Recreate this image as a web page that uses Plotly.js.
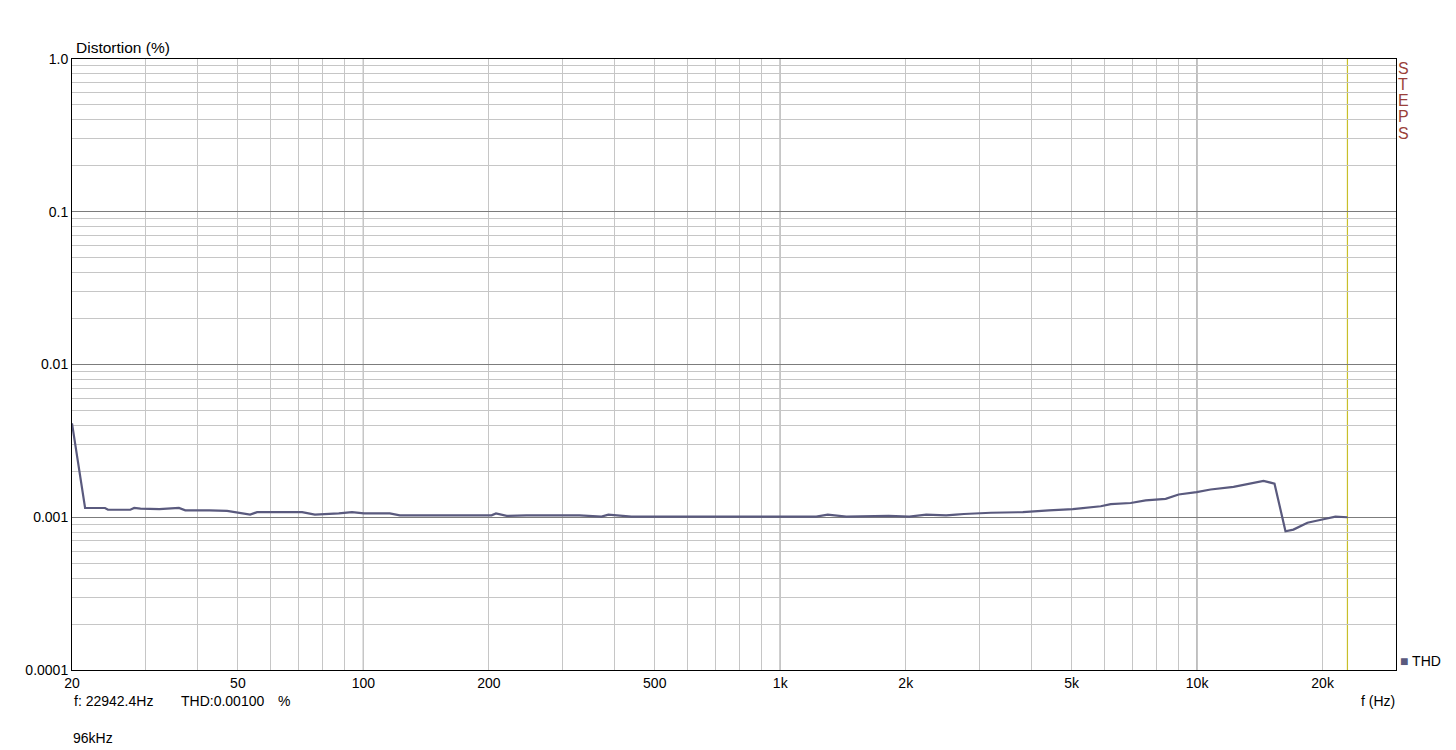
<!DOCTYPE html>
<html>
<head>
<meta charset="utf-8">
<script src="https://cdn.plot.ly/plotly-3.0.1.min.js"></script>
<style>
  html, body { margin: 0; padding: 0; background: #fff; }
  #chart { width: 1456px; height: 750px; }
</style>
</head>
<body>
<div id="chart"></div>
<script>
// ---- data ----
const freqHz = [20, 21.5, 24.0, 24.4, 27.6, 28.2, 29.2, 32.4, 36.1, 37.4,
  42.7, 47.1, 53.5, 55.6, 71.3, 76.5, 87.3, 93.9, 100.3, 104.8,
  115.7, 122.3, 203, 208, 220.7, 246, 330, 372.6, 387, 439.6,
  518.8, 573, 622, 684, 763, 838, 886, 967, 1220, 1300,
  1440, 1820, 2040, 2240, 2500, 2640, 2759, 3201, 3820, 4410,
  5032, 5873, 6206, 6929, 7526, 8405, 9030, 9972, 10773, 12229,
  13434, 14431, 15335, 16293, 17024, 18395, 20091, 21468, 22942];
const thdPct = [0.00412, 0.00115, 0.00115, 0.00112, 0.00112, 0.00115, 0.00114, 0.00113, 0.00115, 0.00111,
  0.00111, 0.00110, 0.00104, 0.00108, 0.00108, 0.00104, 0.00106, 0.00108, 0.00106, 0.00106,
  0.00106, 0.00103, 0.00103, 0.00106, 0.00102, 0.00103, 0.00103, 0.00101, 0.00104, 0.00101,
  0.00101, 0.00102, 0.00101, 0.00102, 0.00101, 0.00102, 0.00101, 0.00102, 0.00101, 0.00104,
  0.00101, 0.00102, 0.00101, 0.00104, 0.00103, 0.00104, 0.00105, 0.00107, 0.00108, 0.00111,
  0.00113, 0.00118, 0.00122, 0.00124, 0.00129, 0.00132, 0.00141, 0.00146, 0.00152, 0.00158,
  0.00166, 0.00173, 0.00166, 0.00081, 0.00083, 0.00092, 0.00097, 0.00101, 0.00100];

const xTickVals = [20, 50, 100, 200, 500, 1000, 2000, 5000, 10000, 20000];
const xTickText = ['20', '50', '100', '200', '500', '1k', '2k', '5k', '10k', '20k'];
const xMinorVals = [30, 40, 60, 70, 80, 90, 300, 400, 600, 700, 800, 900,
  3000, 4000, 6000, 7000, 8000, 9000];
const xDecades = [100, 1000, 10000];
const yTickVals = [0.0001, 0.001, 0.01, 0.1, 1];
const yTickText = ['0.0001', '0.001', '0.01', '0.1', '1.0'];
const yMinorVals = [];
[0.0001, 0.001, 0.01, 0.1].forEach(d => { for (let m = 2; m <= 9; m++) yMinorVals.push(+(d * m).toPrecision(3)); });

const cursorFreq = 22942.4;
const cursorThd = 0.00100;
const seriesName = 'THD';
const sampleRate = '96kHz';
const brandLetters = ['S', 'T', 'E', 'P', 'S'];

// ---- styling ----
const FONT = '"Liberation Sans", Arial, sans-serif';
const lineColor = '#5a5a7e';
const minorGrid = '#c6c6c6';
const majorGrid = '#7c7c7c';

const trace = {
  x: freqHz, y: thdPct, type: 'scatter', mode: 'lines',
  line: { color: lineColor, width: 2.2 },
  name: seriesName, showlegend: false, hoverinfo: 'x+y'
};

const shapes = xDecades.map(v => ({
  type: 'line', xref: 'x', yref: 'paper', x0: v, x1: v, y0: 0, y1: 1,
  line: { color: majorGrid, width: 1.2 }, layer: 'below'
}));
shapes.push({
  type: 'line', xref: 'x', yref: 'paper', x0: cursorFreq, x1: cursorFreq, y0: 0, y1: 1,
  line: { color: '#c8bf2a', width: 1.2 }, layer: 'below'
});

const txt = (text, opts, size, color) => Object.assign({
  text: text, xref: 'paper', yref: 'paper', showarrow: false,
  font: { family: FONT, size: size || 14, color: color || '#000' }
}, opts);

const annotations = [
  txt('Distortion (%)', { x: 0, y: 1, xanchor: 'left', yanchor: 'middle', xshift: 2, yshift: 12 }, 15.5),
  txt('<span style="color:' + lineColor + '">■</span> ' + seriesName,
    { x: 1, y: 0, xanchor: 'left', yanchor: 'middle', xshift: 2, yshift: 9 }),
  txt('f: ' + cursorFreq + 'Hz', { x: 0, y: 0, xanchor: 'left', yanchor: 'middle', xshift: 0, yshift: -31 }),
  txt('THD:' + cursorThd.toFixed(5), { x: 0, y: 0, xanchor: 'left', yanchor: 'middle', xshift: 107, yshift: -31 }),
  txt('%', { x: 0, y: 0, xanchor: 'left', yanchor: 'middle', xshift: 204, yshift: -31 }),
  txt(sampleRate, { x: 0, y: 0, xanchor: 'left', yanchor: 'middle', xshift: -1, yshift: -68 }),
  txt('f (Hz)', { x: 1, y: 0, xanchor: 'right', yanchor: 'middle', xshift: 1, yshift: -31 })
];
brandLetters.forEach((ch, i) => {
  annotations.push(txt(ch, { x: 1, y: 1, xanchor: 'left', yanchor: 'middle', xshift: 0, yshift: -9 - i * 16.3 }, 16, '#9a3f3a'));
});

const layout = {
  width: 1456, height: 750,
  margin: { l: 72, r: 60, t: 59, b: 80, pad: 0 },
  paper_bgcolor: '#ffffff', plot_bgcolor: '#ffffff',
  font: { family: FONT, size: 14, color: '#000' },
  showlegend: false,
  xaxis: {
    type: 'log', range: [Math.log10(20), Math.log10(30000)],
    tickmode: 'array', tickvals: xTickVals, ticktext: xTickText,
    ticks: '', showgrid: true, gridcolor: minorGrid, gridwidth: 1,
    minor: { tickmode: 'array', tickvals: xMinorVals, showgrid: true, gridcolor: minorGrid, gridwidth: 1, ticks: '' },
    showline: true, linecolor: '#000', linewidth: 1, mirror: true, zeroline: false,
    tickfont: { family: FONT, size: 14, color: '#000' }
  },
  yaxis: {
    type: 'log', range: [-4, 0],
    tickmode: 'array', tickvals: yTickVals, ticktext: yTickText,
    ticks: '', showgrid: true, gridcolor: majorGrid, gridwidth: 1,
    minor: { tickmode: 'array', tickvals: yMinorVals, showgrid: true, gridcolor: minorGrid, gridwidth: 1, ticks: '' },
    showline: true, linecolor: '#000', linewidth: 1, mirror: true, zeroline: false,
    tickfont: { family: FONT, size: 14, color: '#000' }
  },
  shapes: shapes,
  annotations: annotations
};

Plotly.newPlot('chart', [trace], layout, { displayModeBar: false, staticPlot: true });
</script>
</body>
</html>
